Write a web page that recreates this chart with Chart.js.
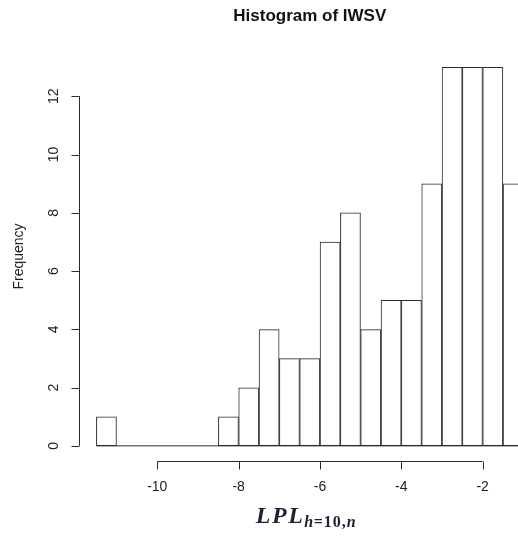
<!DOCTYPE html>
<html>
<head>
<meta charset="utf-8">
<script src="https://cdn.jsdelivr.net/npm/chart.js@4"></script>
<style>
  html, body { margin: 0; padding: 0; background: #fff; overflow: hidden; }
  #wrap { width: 518px; height: 537px; }
</style>
</head>
<body>
<div id="wrap"><canvas id="hist"></canvas></div>
<script>
// histogram bins (left edges, width 0.5) and counts
const binStarts = [-11.5, -11, -10.5, -10, -9.5, -9, -8.5, -8, -7.5, -7, -6.5, -6, -5.5, -5, -4.5, -4, -3.5, -3, -2.5, -2, -1.5];
const binWidth = 0.5;
const counts = [1, 0, 0, 0, 0, 0, 1, 2, 4, 3, 3, 7, 8, 4, 5, 5, 9, 13, 13, 13, 9];

const xTicks = [-10, -8, -6, -4, -2];
const yTicks = [0, 2, 4, 6, 8, 10, 12];

const titleText = 'Histogram of IWSV';
const yTitle = 'Frequency';

const lineColor = '#2a2a2a';

// R-style detached axes, titles and zero baseline
const rAxes = {
    id: 'rAxes',
    afterDatasetsDraw(chart) {
        const ctx = chart.ctx;
        const xs = chart.scales.x, ys = chart.scales.y;
        const area = chart.chartArea;
        ctx.save();
        ctx.strokeStyle = lineColor;
        ctx.fillStyle = '#222';
        ctx.lineWidth = 1;

        // baseline under all bins (zero-height bins)
        const y0 = ys.getPixelForValue(0);
        ctx.beginPath();
        ctx.moveTo(xs.getPixelForValue(binStarts[0]), y0);
        ctx.lineTo(xs.getPixelForValue(binStarts[binStarts.length - 1] + binWidth), y0);
        ctx.stroke();

        // x axis
        const ax = Math.round(area.bottom) + 0.5;
        ctx.beginPath();
        ctx.moveTo(xs.getPixelForValue(xTicks[0]), ax);
        ctx.lineTo(xs.getPixelForValue(xTicks[xTicks.length - 1]), ax);
        xTicks.forEach(t => {
            const px = Math.round(xs.getPixelForValue(t)) + 0.5;
            ctx.moveTo(px, ax);
            ctx.lineTo(px, ax + 8);
        });
        ctx.stroke();
        ctx.font = '14px "Liberation Sans", Arial, sans-serif';
        ctx.textAlign = 'center';
        ctx.textBaseline = 'middle';
        xTicks.forEach(t => {
            ctx.fillText(String(t), xs.getPixelForValue(t), ax + 26);
        });

        // y axis
        const ay = Math.round(area.left) - 0.5;
        ctx.beginPath();
        ctx.moveTo(ay, ys.getPixelForValue(yTicks[0]));
        ctx.lineTo(ay, ys.getPixelForValue(yTicks[yTicks.length - 1]));
        yTicks.forEach(t => {
            const py = Math.round(ys.getPixelForValue(t)) + 0.5;
            ctx.moveTo(ay, py);
            ctx.lineTo(ay - 8, py);
        });
        ctx.stroke();
        yTicks.forEach(t => {
            ctx.save();
            ctx.translate(ay - 25, ys.getPixelForValue(t));
            ctx.rotate(-Math.PI / 2);
            ctx.fillText(String(t), 0, 0);
            ctx.restore();
        });

        // centre of the plot region (data range midpoint)
        const midX = xs.getPixelForValue((binStarts[0] + binStarts[binStarts.length - 1] + binWidth) / 2);

        // y title
        ctx.save();
        ctx.translate(19, (area.top + area.bottom) / 2);
        ctx.rotate(-Math.PI / 2);
        ctx.fillText(yTitle, 0, 0);
        ctx.restore();

        // main title
        ctx.font = 'bold 17px "Liberation Sans", Arial, sans-serif';
        ctx.fillStyle = '#111';
        ctx.fillText(titleText, midX, 16);

        // x title: LPL_{h=10,n}
        const parts = [
            { t: 'LPL', f: 'italic bold 24px "Liberation Serif", serif', sp: 1.5, dy: 0 },
            { t: 'h', f: 'italic bold 16px "Liberation Serif", serif', sp: 0.5, dy: 4 },
            { t: '=10,', f: 'bold 16px "Liberation Serif", serif', sp: 1, dy: 4 },
            { t: 'n', f: 'italic bold 16px "Liberation Serif", serif', sp: 0, dy: 4 }
        ];
        let total = 0;
        parts.forEach(p => {
            ctx.font = p.f;
            ctx.letterSpacing = '0px';
            p.w = ctx.measureText(p.t).width + p.sp * p.t.length;
            total += p.w;
        });
        let cx = midX - 4 - total / 2;
        ctx.textAlign = 'left';
        ctx.textBaseline = 'alphabetic';
        ctx.fillStyle = '#1d2236';
        parts.forEach(p => {
            ctx.font = p.f;
            ctx.letterSpacing = p.sp + 'px';
            ctx.fillText(p.t, cx, 523 + p.dy);
            cx += p.w;
        });
        ctx.restore();
    }
};

new Chart(document.getElementById('hist'), {
    type: 'bar',
    data: {
        datasets: [{
            data: binStarts.map((s, i) => ({ x: s + binWidth / 2, y: counts[i] })),
            backgroundColor: 'rgba(255,255,255,0)',
            borderColor: lineColor,
            borderWidth: 0.6,
            borderSkipped: false,
            barPercentage: 1,
            categoryPercentage: 1,
            inflateAmount: 0.2
        }]
    },
    options: {
        responsive: true,
        maintainAspectRatio: false,
        animation: false,
        layout: { padding: { left: 80, right: 0, top: 52, bottom: 76 } },
        scales: {
            x: { type: 'linear', offset: false, min: -11.9, max: -1.13, display: false, ticks: { stepSize: 0.5 } },
            y: { min: -0.52, max: 13.52, display: false }
        },
        plugins: {
            legend: { display: false },
            tooltip: { enabled: false }
        }
    },
    plugins: [rAxes]
});
</script>
</body>
</html>
